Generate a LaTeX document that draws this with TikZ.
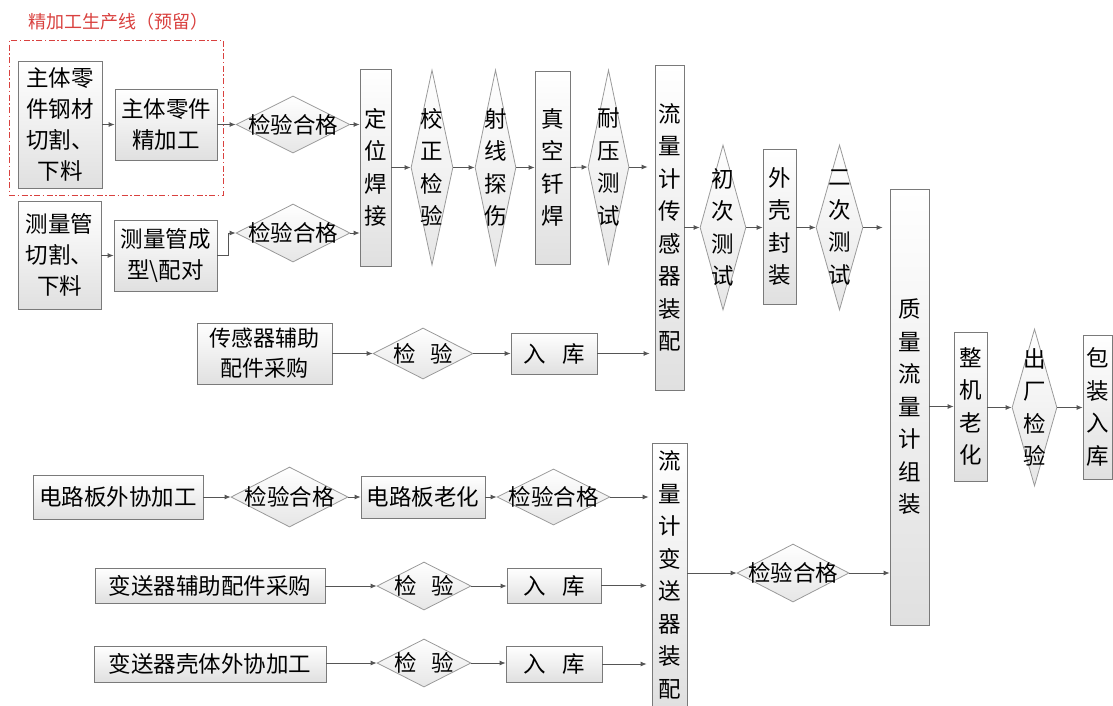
\documentclass[tikz,border=0pt]{standalone}
\usepackage{fontspec}
\setmainfont{Noto Sans CJK SC}
\usetikzlibrary{shapes.geometric,arrows.meta}
\definecolor{boxline}{HTML}{7A7A7A}
\definecolor{boxfill}{HTML}{E0E0E0}
\definecolor{dialine}{HTML}{9A9A9A}
\definecolor{diafill}{HTML}{E6E6E6}
\definecolor{arrcol}{HTML}{555555}
\definecolor{redline}{HTML}{D9413F}
\newcommand\zh{\fontsize{22.5}{31}\selectfont}
\newcommand\zv{\fontsize{22.5}{32.5}\selectfont}
\begin{document}
\begin{tikzpicture}[x=1pt,y=-1pt,
  box/.style={draw=boxline, line width=0.8pt, top color=white, bottom color=boxfill, inner sep=0pt, align=center, font=\zh},
  vbox/.style={box, font=\zv},
  dia/.style={diamond, draw=dialine, line width=0.8pt, top color=white, bottom color=diafill, inner sep=0pt},
  lab/.style={font=\zh, align=center, inner sep=0pt, text=black},
  vlab/.style={font=\zv, align=center, inner sep=0pt, text=black},
  arr/.style={draw=arrcol, line width=0.8pt, -{Latex[length=6pt,width=5pt]}},
  frame/.style={draw=redline, line width=0.8pt, dash pattern=on 6pt off 2.5pt on 1.5pt off 2.5pt},
]
\useasboundingbox (0,0) rectangle (1113,705);
\clip (0,0) rectangle (1113,705);

% title and frame
\node[text=redline, font=\fontsize{18}{21}\selectfont, inner sep=0pt] (title) at (118,22) {精加工生产线（预留）};
\node[frame, minimum width=214pt, minimum height=155pt, inner sep=0pt] (frm) at (116,117.5) {};

% top-left inputs
\node[box, minimum width=84pt, minimum height=127pt] (A) at (60,124.5) {主体零\\件钢材\\切割、\\下料};
\node[box, minimum width=102pt, minimum height=71pt] (B) at (166,124.5) {主体零件\\精加工};
\node[dia, minimum width=114pt, minimum height=57pt, label={[lab]center:检验合格}] (d1) at (293,124.5) {};
\node[box, minimum width=83pt, minimum height=108pt] (C) at (59.5,255) {测量管\\切割、\\下料};
\node[box, minimum width=103pt, minimum height=71pt] (D) at (165.5,255.5) {测量管成\\型\textbackslash 配对};
\node[dia, minimum width=114pt, minimum height=58pt, label={[lab]center:检验合格}] (d2) at (293,233) {};

% main vertical chain
\node[vbox, minimum width=31pt, minimum height=197pt] (weld) at (375.5,167.5) {定\\位\\焊\\接};
\node[dia, minimum width=42pt, minimum height=195pt, label={[vlab]center:校\\正\\检\\验}] (jz) at (432,167.5) {};
\node[dia, minimum width=41pt, minimum height=195pt, label={[vlab]center:射\\线\\探\\伤}] (sx) at (495.5,167.5) {};
\node[vbox, minimum width=35pt, minimum height=193pt] (zk) at (552.5,167.5) {真\\空\\钎\\焊};
\node[dia, minimum width=41pt, minimum height=194pt, label={[vlab]center:耐\\压\\测\\试}] (ny) at (608.5,167) {};
\node[vbox, minimum width=29pt, minimum height=325pt] (cgq) at (669.5,227.5) {流\\量\\计\\传\\感\\器\\装\\配};
\node[dia, minimum width=46pt, minimum height=165pt, label={[vlab]center:初\\次\\测\\试}] (cc) at (723,227.5) {};
\node[vbox, minimum width=33pt, minimum height=155pt] (wk) at (779.5,226.5) {外\\壳\\封\\装};
\node[dia, minimum width=47pt, minimum height=165pt, label={[vlab]center:二\\次\\测\\试}] (ec) at (839.5,227.5) {};
\node[vbox, minimum width=39pt, minimum height=436pt] (zl) at (909.5,407) {质\\量\\流\\量\\计\\组\\装};
\node[vbox, minimum width=33pt, minimum height=149pt] (zj) at (970.5,406.5) {整\\机\\老\\化};
\node[dia, minimum width=45pt, minimum height=157pt, label={[vlab]center:出\\厂\\检\\验}] (cj) at (1034.5,407.5) {};
\node[vbox, minimum width=29pt, minimum height=144pt] (bz) at (1097.5,407) {包\\装\\入\\库};

% sensor accessories row
\node[box, minimum width=135pt, minimum height=61pt, font=\fontsize{22}{30}\selectfont] (fz1) at (264.5,353.5) {传感器辅助\\配件采购};
\node[dia, minimum width=100pt, minimum height=51pt, label={[lab]center:检\hspace{0.65em}验}] (jy1) at (423,353.5) {};
\node[box, minimum width=86pt, minimum height=41pt] (rk1) at (554,353.5) {入\hspace{0.75em}库};

% circuit board row
\node[box, minimum width=170pt, minimum height=44pt] (dl1) at (118,497) {电路板外协加工};
\node[dia, minimum width=117pt, minimum height=60pt, label={[lab]center:检验合格}] (hg1) at (289.5,497) {};
\node[box, minimum width=124pt, minimum height=42pt] (dl2) at (423,497) {电路板老化};
\node[dia, minimum width=113pt, minimum height=56pt, label={[lab]center:检验合格}] (hg2) at (553.5,497) {};
\node[vbox, minimum width=35pt, minimum height=264pt] (bsq) at (669.5,575) {流\\量\\计\\变\\送\\器\\装\\配};

% transmitter rows
\node[box, minimum width=230pt, minimum height=35pt] (fz2) at (210,585.5) {变送器辅助配件采购};
\node[dia, minimum width=94pt, minimum height=48pt, label={[lab]center:检\hspace{0.65em}验}] (jy2) at (424,586) {};
\node[box, minimum width=94pt, minimum height=35pt] (rk2) at (554,585.5) {入\hspace{0.75em}库};
\node[box, minimum width=232pt, minimum height=36pt] (ke) at (210,664) {变送器壳体外协加工};
\node[dia, minimum width=94pt, minimum height=48pt, label={[lab]center:检\hspace{0.65em}验}] (jy3) at (424,663) {};
\node[box, minimum width=96pt, minimum height=36pt] (rk3) at (554,664) {入\hspace{0.75em}库};
\node[dia, minimum width=112pt, minimum height=58pt, label={[lab]center:检验合格}] (hg3) at (793,573) {};

% connectors
\draw[arr] (A.east |- B.west) -- (B.west);
\draw[arr] (B.east) -- (d1.west);
\draw[arr] (d1.east) -- (d1.east -| weld.west);
\draw[arr] (C.east |- D.west) -- (D.west);
\draw[arr] (D.east) -- ++(11,0) |- (d2.west);
\draw[arr] (d2.east) -- (d2.east -| weld.west);
\draw[arr] (weld.east) -- (jz.west);
\draw[arr] (jz.east) -- (sx.west);
\draw[arr] (sx.east) -- (zk.west);
\draw[arr] (zk.east) -- (ny.west);
\draw[arr, shorten >=7pt] (ny.east) -- (ny.east -| cgq.west);
\draw[arr] (cgq.east |- cc.west) -- (cc.west);
\draw[arr] (cc.east) -- (wk.west |- cc.east);
\draw[arr] (wk.east |- ec.west) -- (ec.west);
\draw[arr, shorten >=7pt] (ec.east) -- (ec.east -| zl.west);
\draw[arr] (zl.east |- zj.west) -- (zj.west);
\draw[arr] (zj.east |- cj.west) -- (cj.west);
\draw[arr] (cj.east) -- (cj.east -| bz.west);
\draw[arr] (fz1.east |- jy1.west) -- (jy1.west);
\draw[arr] (jy1.east) -- (jy1.east -| rk1.west);
\draw[arr, shorten >=5pt] (rk1.east) -- (rk1.east -| cgq.west);
\draw[arr] (dl1.east) -- (hg1.west);
\draw[arr] (hg1.east) -- (dl2.west);
\draw[arr] (dl2.east) -- (hg2.west);
\draw[arr, shorten >=3pt] (hg2.east) -- (hg2.east -| bsq.west);
\draw[arr] (fz2.east |- jy2.west) -- (jy2.west);
\draw[arr] (jy2.east) -- (jy2.east -| rk2.west);
\draw[arr, shorten >=5pt] (rk2.east) -- (rk2.east -| bsq.west);
\draw[arr] (ke.east |- jy3.west) -- (jy3.west);
\draw[arr] (jy3.east) -- (jy3.east -| rk3.west);
\draw[arr, shorten >=5pt] (rk3.east) -- (rk3.east -| bsq.west);
\draw[arr] (bsq.east |- hg3.west) -- (hg3.west);
\draw[arr] (hg3.east) -- (hg3.east -| zl.west);
\end{tikzpicture}
\end{document}
